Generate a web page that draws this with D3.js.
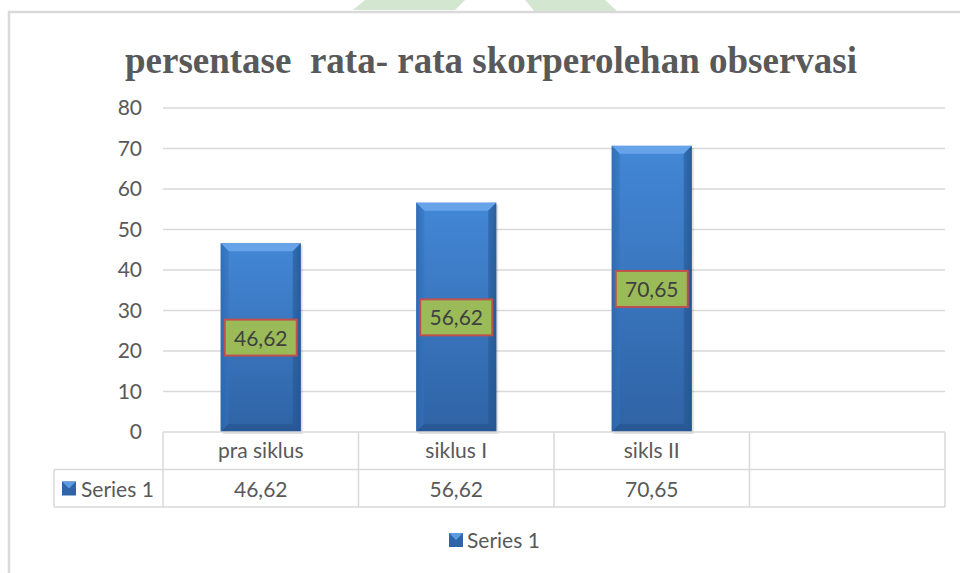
<!DOCTYPE html>
<html>
<head>
<meta charset="utf-8">
<script src="https://cdn.jsdelivr.net/npm/d3@7"></script>
<style>
  body { margin: 0; background: #fff; }
  text { font-family: Lato, "Open Sans", sans-serif; fill: #595959; }
</style>
</head>
<body>
<div id="chart"></div>
<script>
// data
const categories = ["pra siklus", "siklus I", "sikls II", ""];
const values = [46.62, 56.62, 70.65];
const valueLabels = ["46,62", "56,62", "70,65"];
const yTicks = [0, 10, 20, 30, 40, 50, 60, 70, 80];
const seriesName = "Series 1";
const titleText = "persentase  rata- rata skorperolehan observasi";

const W = 960, H = 573;
const plot = { left: 163, right: 945, top: 108, bottom: 432 };
const rowH = 37.5;
const fs = "21px";

const svg = d3.select("#chart").append("svg")
    .attr("width", W)
    .attr("height", H);

const defs = svg.append("defs");
const body = defs.append("linearGradient").attr("id", "barBody")
    .attr("x1", 0).attr("y1", 0).attr("x2", 0).attr("y2", 1);
body.append("stop").attr("offset", "0%").attr("stop-color", "#4387d6");
body.append("stop").attr("offset", "100%").attr("stop-color", "#2f63a5");
const side = defs.append("linearGradient").attr("id", "barSide")
    .attr("x1", 0).attr("y1", 0).attr("x2", 1).attr("y2", 0);
side.append("stop").attr("offset", "0%").attr("stop-color", "#1f4d85").attr("stop-opacity", 0.5);
side.append("stop").attr("offset", "10%").attr("stop-color", "#1f4d85").attr("stop-opacity", 0);
side.append("stop").attr("offset", "90%").attr("stop-color", "#1f4d85").attr("stop-opacity", 0);
side.append("stop").attr("offset", "100%").attr("stop-color", "#1f4d85").attr("stop-opacity", 0.55);

// decorative frame + watermark bits
svg.append("polygon").attr("points", "365,0 465,0 455,10 353,10").attr("fill", "#d3e6d0");
svg.append("polygon").attr("points", "525,0 605,0 618,12 535,12").attr("fill", "#d3e6d0");
svg.append("path")
    .attr("d", `M9,${H} L9,12 L${W},12`)
    .attr("fill", "none").attr("stroke", "#d9d9d9").attr("stroke-width", 2.5);

// title
svg.append("text")
    .attr("x", 491).attr("y", 73)
    .attr("text-anchor", "middle")
    .attr("xml:space", "preserve")
    .style("white-space", "pre")
    .style("font-family", "'Liberation Serif', 'DejaVu Serif', serif")
    .style("font-weight", "bold")
    .style("font-size", "37px")
    .style("fill", "#595959")
    .text(titleText);

// scales
const x = d3.scaleBand().domain(categories.map((c, i) => i)).range([plot.left, plot.right]);
const y = d3.scaleLinear().domain([0, 80]).range([plot.bottom, plot.top]);

// gridlines
svg.append("g").selectAll("line").data(yTicks.filter(d => d > 0)).join("line")
    .attr("x1", plot.left).attr("x2", plot.right)
    .attr("y1", d => y(d)).attr("y2", d => y(d))
    .attr("stroke", "#d9d9d9").attr("stroke-width", 1.5);

// y axis labels
const yAxis = d3.axisLeft(y).tickValues(yTicks).tickSize(0).tickPadding(0);
const gy = svg.append("g").attr("transform", `translate(142,0)`).call(yAxis);
gy.select(".domain").remove();
gy.selectAll("text").style("font-size", fs).style("fill", "#595959")
    .style("font-family", "Lato, 'Open Sans', sans-serif");

// bars
const barW = 80, bev = 8;
const bars = svg.append("g").selectAll("g").data(values).join("g");
bars.each(function (d, i) {
    const g = d3.select(this);
    const cx = x(i) + x.bandwidth() / 2;
    const x0 = cx - barW / 2, x1 = cx + barW / 2;
    const yt = y(d), yb = y(0);
    g.append("rect").attr("x", x0 + 2).attr("y", yt + 2).attr("width", barW).attr("height", yb - yt)
        .attr("fill", "#000").attr("opacity", 0.12);
    g.append("rect").attr("x", x0).attr("y", yt).attr("width", barW).attr("height", yb - yt)
        .attr("fill", "url(#barBody)");
    g.append("rect").attr("x", x0).attr("y", yt).attr("width", barW).attr("height", yb - yt)
        .attr("fill", "url(#barSide)");
    // bevel edges
    g.append("polygon")
        .attr("points", `${x0},${yt} ${x1},${yt} ${x1 - bev},${yt + bev} ${x0 + bev},${yt + bev}`)
        .attr("fill", "#67a3e8");
    g.append("polygon")
        .attr("points", `${x0},${yt} ${x0 + bev},${yt + bev} ${x0 + bev},${yb - bev} ${x0},${yb}`)
        .attr("fill", "#3474c0").attr("opacity", 0.5);
    g.append("polygon")
        .attr("points", `${x1},${yt} ${x1 - bev},${yt + bev} ${x1 - bev},${yb - bev} ${x1},${yb}`)
        .attr("fill", "#24558f").attr("opacity", 0.5);
    g.append("polygon")
        .attr("points", `${x0},${yb} ${x0 + bev},${yb - bev} ${x1 - bev},${yb - bev} ${x1},${yb}`)
        .attr("fill", "#24528a").attr("opacity", 0.6);

    // data label
    const my = (yt + yb) / 2;
    g.append("rect").attr("x", cx - 36).attr("y", my - 18).attr("width", 72).attr("height", 36)
        .attr("fill", "#9bbb59").attr("stroke", "#c0504d").attr("stroke-width", 2);
    g.append("text").attr("x", cx).attr("y", my + 8).attr("text-anchor", "middle")
        .style("font-size", fs).style("fill", "#404040").text(valueLabels[i]);
});

// data table
const tbl = svg.append("g");
const r0 = plot.bottom, r1 = r0 + rowH, r2 = r1 + rowH;
const left = 54;
const line = (x1, y1, x2, y2) => tbl.append("line")
    .attr("x1", x1).attr("y1", y1).attr("x2", x2).attr("y2", y2)
    .attr("stroke", "#d9d9d9").attr("stroke-width", 1.5);
line(plot.left, r0, plot.right, r0);
line(left, r1, plot.right, r1);
line(left, r2, plot.right, r2);
line(left, r1, left, r2);
categories.forEach((c, i) => line(x(i), r0, x(i), r2));
line(plot.right, r0, plot.right, r2);

tbl.selectAll("text.cat").data(categories).join("text")
    .attr("class", "cat")
    .attr("x", (d, i) => x(i) + x.bandwidth() / 2)
    .attr("y", r0 + 26)
    .attr("text-anchor", "middle")
    .style("font-size", fs)
    .text(d => d);
tbl.selectAll("text.val").data(valueLabels).join("text")
    .attr("class", "val")
    .attr("x", (d, i) => x(i) + x.bandwidth() / 2)
    .attr("y", r1 + 27)
    .attr("text-anchor", "middle")
    .style("font-size", fs)
    .text(d => d);

function legendKey(g, kx, ky) {
    g.append("rect").attr("x", kx).attr("y", ky).attr("width", 14).attr("height", 14).attr("fill", "#2f65a8");
    g.append("polygon")
        .attr("points", `${kx},${ky} ${kx + 14},${ky} ${kx + 7},${ky + 7}`)
        .attr("fill", "#5b9be0");
}
legendKey(tbl, 62, r1 + 12);
tbl.append("text").attr("x", 81).attr("y", r1 + 27).style("font-size", fs).text(seriesName);

// bottom legend
const leg = svg.append("g");
legendKey(leg, 449, 533);
leg.append("text").attr("x", 467).attr("y", 548).style("font-size", fs).text(seriesName);
</script>
</body>
</html>
